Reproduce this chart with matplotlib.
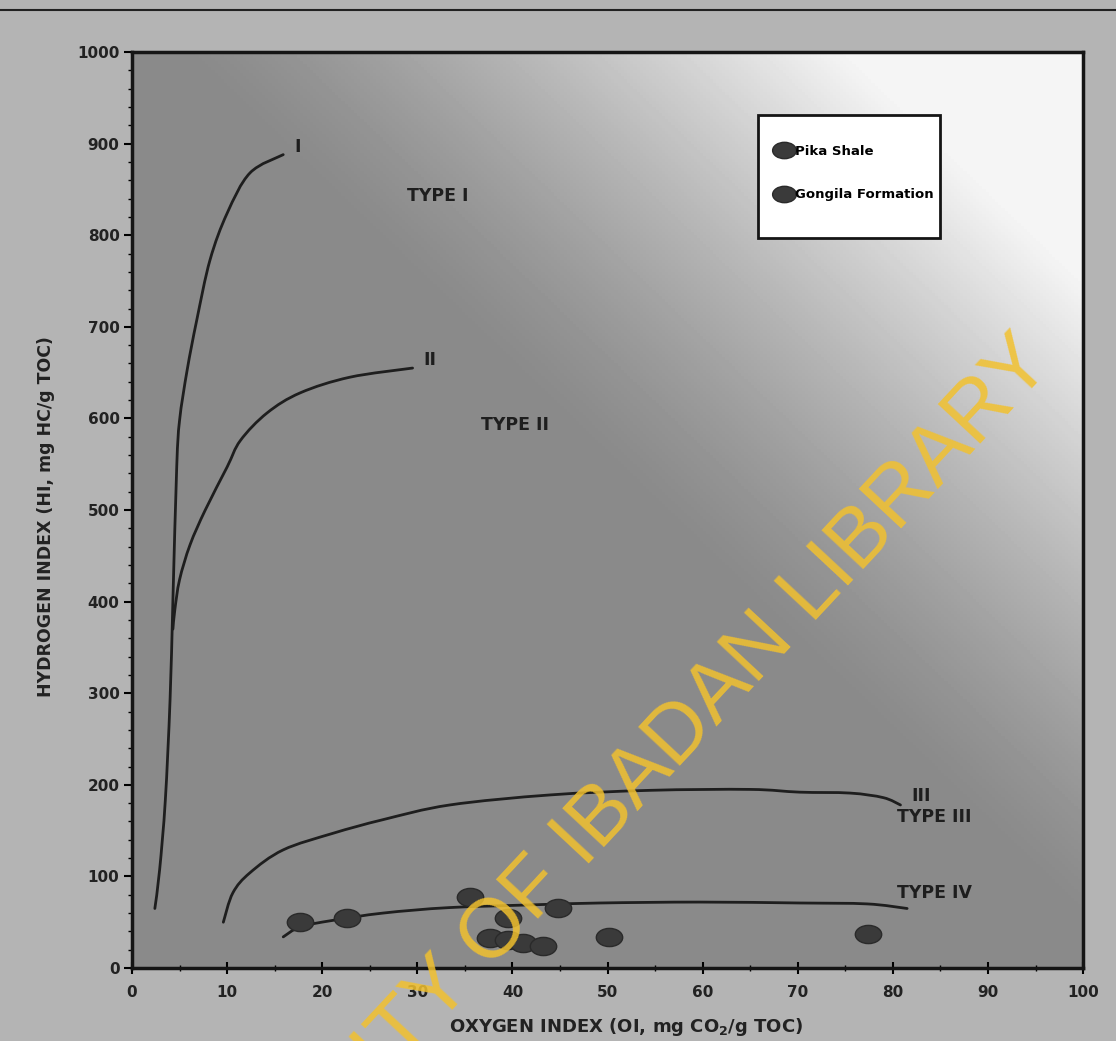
import numpy as np
import matplotlib
matplotlib.use("Agg")
import matplotlib.pyplot as plt
from matplotlib.path import Path
from matplotlib.patches import PathPatch, Rectangle
from matplotlib.lines import Line2D
from matplotlib.ticker import MultipleLocator

plt.rcParams['font.family'] = ['DejaVu Sans']

# evolution pathways (OI, HI)
type1_oi = [2.4, 2.9, 3.5, 4.0, 4.3, 4.7, 5.0, 5.8, 6.8, 8.2, 10.0, 12.4, 15.9]
type1_hi = [65, 107, 183, 293, 402, 547, 598, 653, 707, 773, 824, 868, 888]

type2_oi = [4.3, 4.5, 5.0, 6.1, 7.7, 10.0, 11.4, 14.2, 17.7, 22.9, 29.5]
type2_hi = [370, 391, 424, 462, 500, 547, 576, 606, 628, 645, 655]

type3_oi = [9.6, 10.6, 12.4, 15.9, 21.1, 26.4, 33.4, 44.0, 54.5, 65.0, 70.2, 75.5, 79.0, 80.8]
type3_hi = [50, 82, 104, 129, 147, 162, 178, 189, 194, 195, 192, 191, 186, 178]

type4_oi = [15.9, 17.7, 21.1, 26.4, 33.4, 42.2, 49.2, 59.7, 70.2, 77.3, 81.5]
type4_hi = [34, 45, 52, 60, 66, 69, 71, 72, 71, 70, 65]

# samples
pika_oi = [17.7, 22.6, 35.5, 39.5, 44.8]
pika_hi = [50, 55, 78, 55, 65]
gongila_oi = [37.6, 39.5, 41.1, 43.2, 50.2, 77.4]
gongila_hi = [33, 31, 27, 24, 34, 37]


def smooth_path(xs, ys):
    # bezier path through the read points (Catmull-Rom control points)
    p = np.column_stack([xs, ys]).astype(float)
    verts = [p[0]]
    codes = [Path.MOVETO]
    for i in range(len(p) - 1):
        p0 = p[i - 1] if i > 0 else p[i]
        p3 = p[i + 2] if i + 2 < len(p) else p[i + 1]
        c1 = p[i] + (p[i + 1] - p0) / 6
        c2 = p[i + 1] - (p3 - p[i]) / 6
        verts += [c1, c2, p[i + 1]]
        codes += [Path.CURVE4] * 3
    return Path(verts, codes)


fig = plt.figure(figsize=(11.16, 10.41), dpi=100, facecolor='#b4b4b4')
ax = fig.add_axes([0.1183, 0.0701, 0.8522, 0.8799])

# scanned-page shading, lighter towards the upper right
gx, gy = np.meshgrid(np.linspace(0, 100, 300), np.linspace(0, 1000, 300))
s = gx / 100 + gy / 1000
shade = 0.54 + 0.42 * np.clip((s - 1.05) / 0.7, 0, 1) ** 1.3
ax.imshow(shade, extent=(0, 100, 0, 1000), origin='lower', aspect='auto',
          cmap='gray', vmin=0, vmax=1, zorder=0)

for xs, ys in [(type1_oi, type1_hi), (type2_oi, type2_hi),
               (type3_oi, type3_hi), (type4_oi, type4_hi)]:
    ax.add_patch(PathPatch(smooth_path(xs, ys), fill=False, edgecolor='#1e1e1e',
                           lw=2.0, capstyle='round', zorder=2))

circ = Path.unit_circle()
ellipse = Path(circ.vertices * np.array([1.45, 1.0]), circ.codes)
ax.plot(pika_oi, pika_hi, ls='none', marker=ellipse, ms=19, color='#3a3a3a',
        mec='#2a2a2a', label='Pika Shale', zorder=3)
ax.plot(gongila_oi, gongila_hi, ls='none', marker=ellipse, ms=19, color='#3a3a3a',
        mec='#2a2a2a', label='Gongila Formation', zorder=3)

txt_kw = dict(fontsize=12.5, fontweight='bold', color='#1e1e1e', ha='center', va='center')
ax.text(17.4, 896, 'I', **txt_kw)
ax.text(31.3, 664, 'II', **txt_kw)
ax.text(32.1, 843, 'TYPE I', **txt_kw)
ax.text(40.3, 593, 'TYPE II', **txt_kw)
ax.text(83.0, 188, 'III', **txt_kw)
ax.text(84.4, 165, 'TYPE III', **txt_kw)
ax.text(84.4, 82, 'TYPE IV', **txt_kw)

ax.set_xlim(0, 100)
ax.set_ylim(0, 1000)
ax.xaxis.set_major_locator(MultipleLocator(10))
ax.xaxis.set_minor_locator(MultipleLocator(5))
ax.yaxis.set_major_locator(MultipleLocator(100))
ax.yaxis.set_minor_locator(MultipleLocator(20))
ax.tick_params(axis='x', which='major', direction='inout', length=8, width=1.5, labelsize=11, pad=8)
ax.tick_params(axis='x', which='minor', direction='inout', length=4, width=1)
ax.tick_params(axis='y', which='major', direction='out', length=6, width=1.5, labelsize=11, pad=3)
ax.tick_params(axis='y', which='minor', direction='out', length=3, width=1)
for lab in ax.get_xticklabels() + ax.get_yticklabels():
    lab.set_fontweight('bold')
    lab.set_color('#222222')
for spine in ax.spines.values():
    spine.set_linewidth(2.5)
    spine.set_color('#151515')

ax.set_xlabel('OXYGEN INDEX (OI, mg CO$_\\mathbf{2}$/g TOC)', fontsize=13, fontweight='bold',
              color='#222222')
ax.set_ylabel('HYDROGEN INDEX (HI, mg HC/g TOC)', fontsize=12.5, fontweight='bold',
              color='#222222')
ax.xaxis.set_label_coords(0.52, -0.052)
ax.yaxis.set_label_coords(-0.081, 0.493)

# legend box
ax.add_patch(Rectangle((0.658, 0.797), 0.192, 0.134, transform=ax.transAxes,
                       facecolor='white', edgecolor='#151515', lw=2, zorder=4))
ax.legend(loc='center left', bbox_to_anchor=(0.668, 0.868), frameon=False,
          borderpad=0, labelspacing=2.3, handletextpad=0.0, handlelength=1.6,
          markerscale=0.9, prop={'weight': 'bold', 'size': 9.5}).set_zorder(5)

# line across the top of the scanned page
fig.add_artist(Line2D([0, 1], [0.99, 0.99], color='#222222', lw=1.5, transform=fig.transFigure))

# library watermark
fig.text(0.532, 0.175, 'UNIVERSITY OF IBADAN LIBRARY', fontsize=60, color='#f2c12e',
         alpha=0.85, rotation=47, rotation_mode='anchor', ha='center', va='baseline',
         family='Liberation Sans', zorder=10)

fig.savefig('out.png', dpi=100, facecolor=fig.get_facecolor())
